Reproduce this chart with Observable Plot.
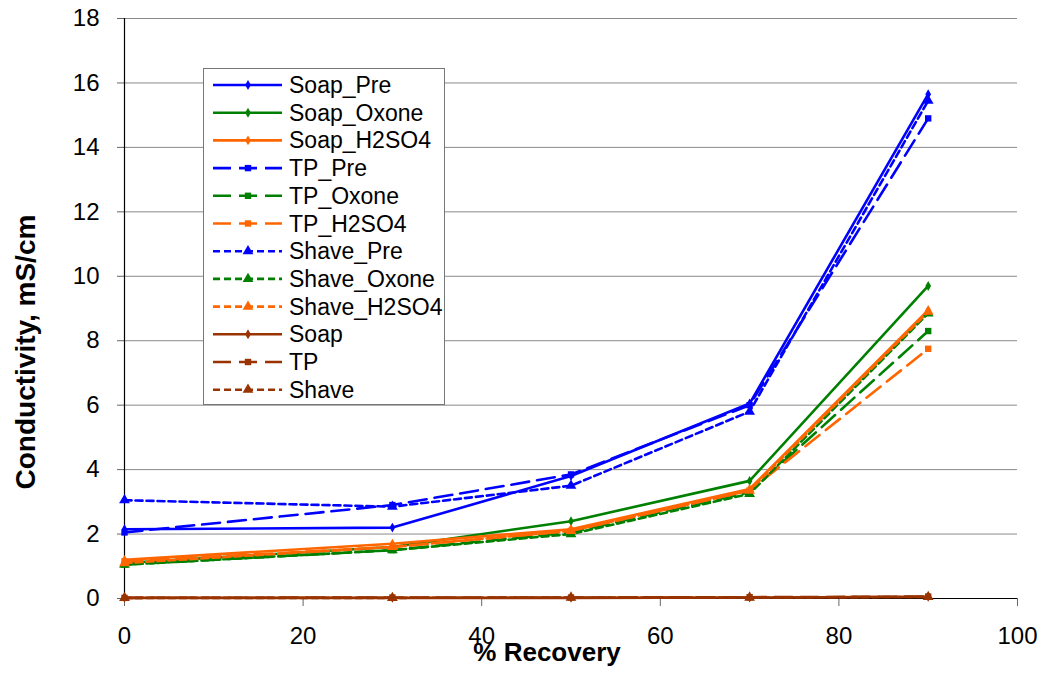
<!DOCTYPE html>
<html>
<head>
<meta charset="utf-8">
<script src="https://cdn.jsdelivr.net/npm/d3@7"></script>
<script src="https://cdn.jsdelivr.net/npm/@observablehq/plot@0.6"></script>
<style>
  body { margin: 0; background: #fff; }
  #wrap { position: relative; width: 1041px; height: 677px; font-family: "Liberation Sans", Arial, sans-serif; }
  #legend { position: absolute; left: 203px; top: 68px; width: 240px; height: 335px; background: #fff; border: 1px solid #777; }
</style>
</head>
<body>
<div id="wrap"><div id="chart"></div><div id="legend"></div></div>
<script>
// ---- data ----
const recovery = [0, 30, 50, 70, 90];
const seriesNames = ["Soap_Pre", "Soap_Oxone", "Soap_H2SO4", "TP_Pre", "TP_Oxone", "TP_H2SO4",
  "Shave_Pre", "Shave_Oxone", "Shave_H2SO4", "Soap", "TP", "Shave"];
const soapPre     = [2.15, 2.2, 3.8, 6.05, 15.65];
const soapOxone   = [1.1, 1.6, 2.4, 3.65, 9.7];
const soapH2SO4   = [1.2, 1.7, 2.15, 3.4, 8.95];
const tpPre       = [2.05, 2.9, 3.85, 6.0, 14.9];
const tpOxone     = [1.05, 1.5, 2.05, 3.3, 8.3];
const tpH2SO4     = [1.15, 1.6, 2.1, 3.35, 7.75];
const shavePre    = [3.05, 2.85, 3.5, 5.8, 15.45];
const shaveOxone  = [1.05, 1.5, 2.0, 3.25, 8.85];
const shaveH2SO4  = [1.1, 1.6, 2.1, 3.35, 8.9];
const soap        = [0.02, 0.02, 0.02, 0.03, 0.05];
const tp          = [0.02, 0.03, 0.03, 0.04, 0.06];
const shave       = [0.02, 0.02, 0.03, 0.03, 0.05];
const seriesValues = [soapPre, soapOxone, soapH2SO4, tpPre, tpOxone, tpH2SO4,
  shavePre, shaveOxone, shaveH2SO4, soap, tp, shave];
const xTicks = [0, 20, 40, 60, 80, 100];
const yTicks = [0, 2, 4, 6, 8, 10, 12, 14, 16, 18];
const xTitle = "% Recovery";
const yTitle = "Conductivity, mS/cm";

// ---- styles ----
const colorOf = name => name.endsWith("_Pre") ? "#0000FF" : name.endsWith("_Oxone") ? "#008000"
  : name.endsWith("_H2SO4") ? "#FF6600" : "#993300";
const product = name => name.split("_")[0];
const dashOf = name => ({Soap: null, TP: "18,8", Shave: "7,4"})[product(name)];
const symbolOf = name => ({Soap: "diamond", TP: "square", Shave: "triangle"})[product(name)];
const rOf = name => ({Soap: 3, TP: 3.6, Shave: 4})[product(name)];

const rows = seriesNames.map((name, i) => recovery.map((x, j) => ({name, x, y: seriesValues[i][j]})));

const FONT = "Liberation Sans, Arial, sans-serif";
const marks = [
  Plot.gridY(yTicks.filter(d => d > 0), {stroke: "#8a8a8a", strokeOpacity: 1, strokeWidth: 1}),
  Plot.axisY(yTicks, {tickSize: 7, tickPadding: 18, fontSize: 24, label: null, stroke: "#666", fill: "#000"}),
  Plot.axisX(xTicks, {tickSize: 8, tickPadding: 20, fontSize: 24, label: null, stroke: "#666", fill: "#000"}),
  Plot.ruleX([0], {y1: 0, y2: 18, stroke: "#000", strokeWidth: 1.2}),
  Plot.ruleY([0], {stroke: "#000", strokeWidth: 1.2})
];
rows.forEach((data, i) => {
  const name = seriesNames[i];
  marks.push(Plot.line(data, {x: "x", y: "y", stroke: colorOf(name), strokeWidth: 2.6,
    strokeDasharray: dashOf(name), strokeLinejoin: "round"}));
  marks.push(Plot.dot(data, {x: "x", y: "y", symbol: () => symbolOf(name), r: rOf(name),
    fill: colorOf(name), stroke: "none"}));
});
marks.push(Plot.text([yTitle], {frameAnchor: "bottom-left", dx: -98, dy: -109, rotate: -90,
  textAnchor: "start", lineAnchor: "middle", fontSize: 28, fontWeight: "bold", fill: "#000", text: d => d}));
marks.push(Plot.text([xTitle], {frameAnchor: "bottom", dy: 62, dx: -24, fontSize: 26,
  fontWeight: "bold", fill: "#000", text: d => d}));

const chart = Plot.plot({
  width: 1041, height: 677,
  marginLeft: 124, marginRight: 24, marginTop: 18, marginBottom: 79,
  style: {fontFamily: FONT, background: "#fff", overflow: "visible"},
  x: {domain: [0, 100], axis: null},
  y: {domain: [0, 18], axis: null},
  symbol: {type: "identity"},
  marks
});
document.getElementById("chart").appendChild(chart);

// ---- legend ----
const lg = d3.select("#legend").append("svg").attr("width", 240).attr("height", 335)
  .style("font-family", FONT);
seriesNames.forEach((name, i) => {
  const cy = 16 + i * 27.7;
  const g = lg.append("g").attr("transform", `translate(0,${cy})`);
  g.append("line").attr("x1", 9).attr("x2", 78).attr("y1", 0).attr("y2", 0)
    .attr("stroke", colorOf(name)).attr("stroke-width", 2.6)
    .attr("stroke-dasharray", dashOf(name));
  const sym = {diamond: d3.symbolDiamond, square: d3.symbolSquare, triangle: d3.symbolTriangle}[symbolOf(name)];
  g.append("path").attr("transform", "translate(44,0)")
    .attr("d", d3.symbol(sym, Math.PI * rOf(name) ** 2)())
    .attr("fill", colorOf(name));
  g.append("text").attr("x", 85).attr("y", 0).attr("dy", "0.35em")
    .attr("font-size", 23).attr("fill", "#000").text(name);
});
</script>
</body>
</html>
